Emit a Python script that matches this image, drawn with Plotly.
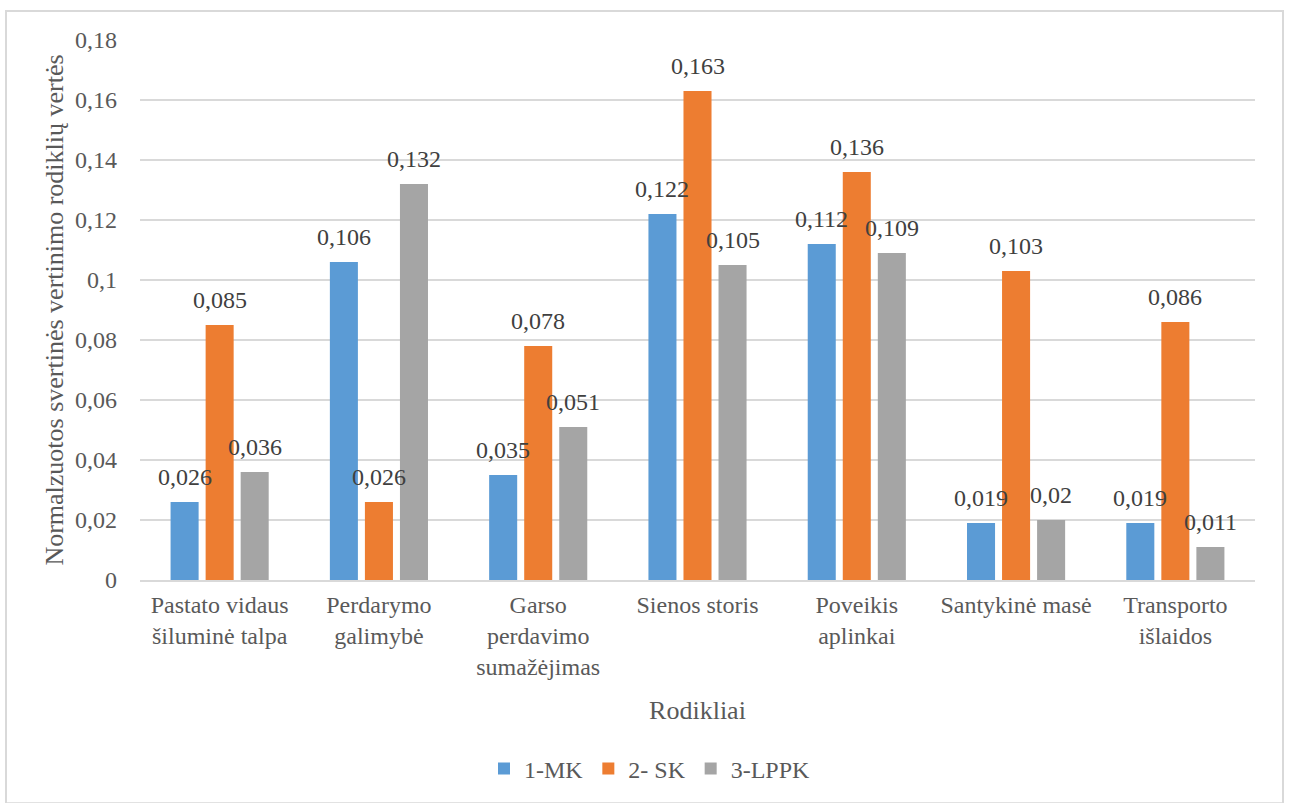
import plotly.graph_objects as go

# Indicators on the category axis
categories = [
    "Pastato vidaus<br>šiluminė talpa",
    "Perdarymo<br>galimybė",
    "Garso<br>perdavimo<br>sumažėjimas",
    "Sienos storis",
    "Poveikis<br>aplinkai",
    "Santykinė masė",
    "Transporto<br>išlaidos",
]

# Normalised weighted values per alternative
mk = [0.026, 0.106, 0.035, 0.122, 0.112, 0.019, 0.019]
sk = [0.085, 0.026, 0.078, 0.163, 0.136, 0.103, 0.086]
lppk = [0.036, 0.132, 0.051, 0.105, 0.109, 0.020, 0.011]

series_names = ["1-MK", "2- SK", "3-LPPK"]
series_colors = ["#5B9BD5", "#ED7D31", "#A5A5A5"]

y_tick_vals = [0, 0.02, 0.04, 0.06, 0.08, 0.10, 0.12, 0.14, 0.16, 0.18]
y_tick_text = ["0", "0,02", "0,04", "0,06", "0,08", "0,1", "0,12", "0,14", "0,16", "0,18"]

FONT = "Liberation Serif"
BARGAP = 0.34

fig = go.Figure()
all_series = [mk, sk, lppk]
for name, vals, col in zip(series_names, all_series, series_colors):
    fig.add_trace(go.Bar(
        name=name, x=list(range(len(categories))), y=vals,
        marker=dict(color=col, line=dict(width=0)),
    ))


def fmt(v):
    s = ("%.3f" % v).rstrip("0").rstrip(".")
    return s.replace(".", ",")


# Value labels above each bar
slot = (1 - BARGAP) / 3
annotations = []
for k, vals in enumerate(all_series):
    for i, v in enumerate(vals):
        annotations.append(dict(
            x=i + (k - 1) * slot, y=v, xref="x", yref="y",
            text=fmt(v), showarrow=False, yanchor="bottom", yshift=10,
            font=dict(family=FONT, size=24, color="#404040"),
        ))

fig.update_layout(
    width=1291, height=803,
    margin=dict(l=140, r=36, t=40, b=221),
    paper_bgcolor="white", plot_bgcolor="white",
    barmode="group", bargap=BARGAP, bargroupgap=0.2,
    font=dict(family=FONT, size=24, color="#595959"),
    annotations=annotations,
    showlegend=True,
    legend=dict(orientation="h", x=(650 - 140) / 1115, xanchor="center", y=-0.35, yanchor="middle",
                font=dict(family=FONT, size=24, color="#595959"),
                itemwidth=30, traceorder="normal"),
    xaxis=dict(
        tickmode="array", tickvals=list(range(len(categories))), ticktext=categories,
        range=[-0.5, len(categories) - 0.5],
        showline=True, linecolor="#D9D9D9", linewidth=1.5,
        ticks="", showgrid=False, ticklabelstandoff=2,
        tickfont=dict(family=FONT, size=24, color="#595959"),
        title=dict(text="Rodikliai", font=dict(family=FONT, size=26, color="#595959"), standoff=22),
    ),
    yaxis=dict(
        range=[0, 0.18], tickmode="array", tickvals=y_tick_vals, ticktext=y_tick_text,
        showgrid=True, gridcolor="#D9D9D9", gridwidth=1.5,
        zeroline=False, showline=False, ticks="", ticklabelstandoff=22,
        tickfont=dict(family=FONT, size=24, color="#595959"),
        title=dict(text="Normalzuotos svertinės vertinimo rodiklių vertės",
                   font=dict(family=FONT, size=26, color="#595959"), standoff=3),
    ),
    shapes=[dict(
        type="rect", xref="paper", yref="paper",
        x0=(6 - 140) / 1115, x1=(1283 - 140) / 1115,
        y0=(582 - 806) / 542, y1=(582 - 11) / 542,
        line=dict(color="#D9D9D9", width=2), fillcolor="rgba(0,0,0,0)", layer="below",
    )],
)

fig.write_html("out.html")
